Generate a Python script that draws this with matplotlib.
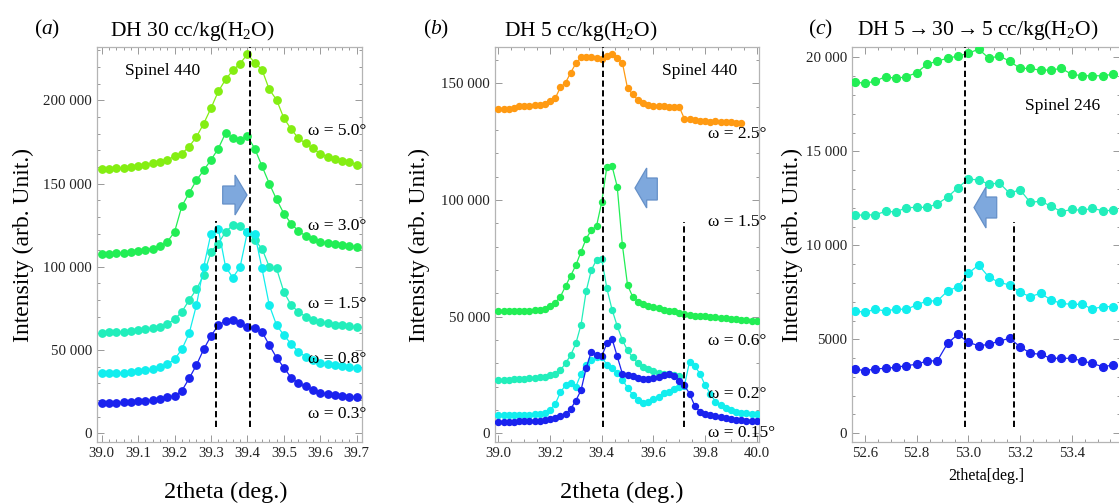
"""
Spinel XRD rocking scans - three panels (DH 30, DH 5, DH 5->30->5)
"""

import numpy as np
import matplotlib
matplotlib.use("Agg")
import matplotlib.pyplot as plt
from matplotlib.patches import Polygon
from matplotlib.ticker import MultipleLocator, FuncFormatter

plt.rcParams['font.family'] = ['Liberation Serif', 'DejaVu Serif']
plt.rcParams['mathtext.fontset'] = 'custom'
plt.rcParams['mathtext.rm'] = 'Liberation Serif'
plt.rcParams['mathtext.it'] = 'Liberation Serif:italic'

# ==============================================================================
#  DATA (intensities in thousands of counts)
# ==============================================================================
# scan grids: (a) 39.00-39.70 step 0.02, (b) 39.00-40.00 step 0.02, (c) 52.56-53.56 step 0.04
theta_a = np.round(np.linspace(39.00, 39.70, 36), 2)
theta_b = np.round(np.linspace(39.00, 40.00, 51), 2)
theta_c = np.round(np.linspace(52.56, 53.56, 26), 2)

a_w50 = [158.7, 158.9, 159.1, 159.5, 159.9, 160.7, 161.3, 162.1, 162.9, 164.3, 166.3, 168.0,
         172.2, 178.0, 186.0, 195.3, 205.3, 212.5, 218.0, 222.0, 227.8, 222.5, 218.4, 206.5,
         200.3, 189.3, 182.7, 177.2, 174.1, 171.2, 167.8, 166.2, 164.6, 163.4, 162.8, 161.4]
a_w30 = [107.5, 107.8, 108.2, 108.6, 109.0, 109.6, 110.4, 111.0, 112.3, 115.0, 121.0, 136.5,
         144.3, 152.0, 158.0, 164.2, 171.0, 180.3, 177.5, 176.0, 178.5, 171.0, 160.5, 150.0,
         140.5, 132.0, 126.0, 121.5, 118.5, 116.5, 115.0, 114.3, 113.7, 113.2, 112.5, 112.2]
a_w15 = [60.5, 60.7, 60.9, 61.1, 61.5, 61.9, 62.5, 63.3, 64.1, 65.7, 68.5, 73.0,
         80.0, 86.5, 95.0, 109.0, 114.0, 121.0, 125.0, 124.6, 121.0, 116.0, 111.0, 100.0,
         99.0, 85.0, 77.0, 73.0, 70.0, 68.0, 67.0, 66.0, 65.3, 64.8, 64.2, 63.7]
a_w08 = [36.0, 36.0, 36.2, 36.4, 36.8, 37.3, 37.9, 38.7, 39.7, 41.5, 44.5, 50.5,
         60.0, 77.0, 100.0, 120.0, 123.0, 100.0, 93.5, 100.0, 121.0, 120.0, 99.0, 77.0,
         65.0, 59.0, 53.7, 49.0, 46.0, 44.0, 42.5, 41.6, 40.8, 40.2, 39.6, 39.2]
a_w03 = [18.4, 18.4, 18.4, 18.6, 19.0, 19.4, 19.6, 20.0, 20.8, 22.0, 22.4, 25.6,
         33.0, 41.0, 50.5, 58.5, 65.0, 67.5, 68.0, 66.0, 64.0, 63.0, 61.0, 53.0,
         45.5, 39.5, 33.5, 30.0, 28.2, 26.2, 24.5, 23.6, 23.0, 22.5, 22.1, 21.8]
a_labels = ["ω = 5.0°", "ω = 3.0°", "ω = 1.5°", "ω = 0.8°", "ω = 0.3°"]

b_w25 = [138.8, 138.9, 139.0, 139.2, 140.3, 140.2, 140.3, 140.5, 140.7, 141.2, 142.2, 143.5,
         148.2, 150.2, 154.5, 158.5, 161.1, 161.4, 161.1, 160.7, 160.4, 161.7, 162.5, 160.7,
         158.8, 147.8, 145.2, 142.8, 141.4, 140.8, 140.4, 140.3, 140.2, 140.0, 139.9, 139.8,
         134.8, 134.5, 134.3, 134.0, 133.6, 133.5, 133.6, 133.3, 133.3, 133.2, 133.1, 133.0]
b_w15 = [52.4, 52.4, 52.5, 52.5, 52.5, 52.6, 52.6, 52.8, 53.0, 53.4, 54.4, 56.0,
         58.5, 63.0, 67.5, 72.0, 77.8, 83.4, 87.1, 88.8, 99.0, 114.2, 114.5, 105.7,
         80.7, 63.5, 58.5, 56.4, 55.3, 54.5, 54.0, 53.5, 53.0, 52.6, 52.2, 51.5,
         50.9, 50.6, 50.4, 50.3, 50.1, 50.0, 49.8, 49.6, 49.4, 49.1, 48.8, 48.6,
         48.4, 48.2, 48.1]
b_w06 = [22.8, 22.8, 22.9, 23.1, 23.2, 23.4, 23.6, 23.8, 24.0, 24.3, 24.8, 25.5,
         27.0, 30.0, 33.5, 38.5, 46.5, 61.0, 70.0, 74.3, 74.8, 62.1, 53.0, 46.0,
         40.0, 35.5, 32.5, 30.0, 28.5, 27.5, 26.6, 26.0, 25.5, 25.2, 24.9, 24.6]
b_w02 = [7.8, 7.8, 7.8, 7.8, 7.9, 7.9, 8.0, 8.1, 8.4, 8.9, 10.0, 12.5,
         17.5, 20.7, 21.4, 20.0, 25.5, 29.3, 31.4, 32.5, 32.8, 29.3, 27.8, 25.9,
         23.0, 19.5, 16.5, 14.3, 13.1, 13.3, 14.6, 15.7, 17.1, 17.9, 18.8, 20.0,
         20.3, 30.7, 29.0, 25.5, 20.7, 17.0, 13.6, 12.0, 10.7, 10.0, 9.0, 8.7,
         8.5, 8.4, 8.3]
b_w015 = [5.0, 5.0, 5.0, 5.0, 5.1, 5.1, 5.2, 5.3, 5.4, 5.6, 6.0, 6.6,
          7.3, 8.3, 10.5, 14.0, 18.5, 28.0, 35.0, 33.5, 33.0, 38.5, 40.5, 33.0,
          25.5, 25.0, 24.5, 23.8, 23.2, 23.2, 23.6, 24.2, 25.0, 25.6, 24.5, 22.5,
          20.5, 17.0, 11.8, 9.2, 8.4, 7.8, 7.2, 6.8, 6.4, 6.0, 5.7, 5.5,
          5.3, 5.2, 5.1]
b_labels = ["ω = 2.5°", "ω = 1.5°", "ω = 0.6°", "ω = 0.2°", "ω = 0.15°"]

c_s1 = [18.70, 18.61, 18.74, 18.97, 18.88, 18.97, 19.18, 19.63, 19.80, 19.95, 20.07, 20.21, 20.44,
        19.95, 20.07, 19.80, 19.41, 19.41, 19.31, 19.33, 19.41, 19.10, 19.02, 19.02, 19.02, 19.10]
c_s2 = [11.61, 11.61, 11.63, 11.80, 11.78, 12.00, 12.02, 12.02, 12.20, 12.57, 13.07, 13.52, 13.48,
        13.25, 13.32, 12.77, 12.96, 12.28, 12.35, 12.08, 11.79, 11.91, 11.86, 11.97, 11.84, 11.86]
c_s3 = [6.52, 6.43, 6.61, 6.50, 6.61, 6.59, 6.83, 7.04, 7.04, 7.57, 7.80, 8.51, 8.95,
        8.30, 8.03, 7.89, 7.50, 7.27, 7.45, 7.09, 6.91, 6.86, 6.86, 6.61, 6.74, 6.74]
c_s4 = [3.42, 3.33, 3.42, 3.46, 3.51, 3.60, 3.67, 3.85, 3.85, 4.79, 5.27, 4.84, 4.66,
        4.73, 4.91, 5.05, 4.61, 4.26, 4.20, 3.99, 3.99, 3.99, 3.85, 3.72, 3.54, 3.63]

# reference lines: (2theta, y_bottom, y_top) in counts
a_refs = [(39.315, 4000, 127600), (39.407, 4000, 232000)]
b_refs = [(39.406, 2800, 165500), (39.720, 2800, 90700)]
c_refs = [(52.987, 350, 20550), (53.177, 350, 11250)]

# ==============================================================================
#  STYLE
# ==============================================================================
W, H = 1119, 504
LIME, GREEN, AQUA, CYAN, BLUE, ORANGE = '#84ee12', '#22ee55', '#22eebb', '#12eeee', '#1a22ee', '#ff9a12'
SPINE = '#b4b4b4'


def px_box(left, top, right, bottom):
    return [left / W, 1 - bottom / H, (right - left) / W, (bottom - top) / H]


def fx(x):
    return x / W


def fy(y):
    return 1 - y / H


def fmt_counts(v, pos):
    n = int(round(v))
    return f"{n:,}".replace(",", " ") if abs(n) >= 10000 else str(n)


def style_axes(ax, xmaj, xmin, ymaj, ymin, xfmt):
    for sp in ax.spines.values():
        sp.set_color(SPINE)
        sp.set_linewidth(0.9)
    ax.xaxis.set_major_locator(MultipleLocator(xmaj))
    ax.xaxis.set_minor_locator(MultipleLocator(xmin))
    ax.yaxis.set_major_locator(MultipleLocator(ymaj))
    ax.yaxis.set_minor_locator(MultipleLocator(ymin))
    ax.xaxis.set_major_formatter(FuncFormatter(lambda v, p: xfmt % v))
    ax.yaxis.set_major_formatter(FuncFormatter(fmt_counts))
    ax.tick_params(which='both', direction='in', top=True, right=True, color='#999999',
                   labelcolor='#222222', labelsize=10.7, width=0.7)
    ax.tick_params(which='major', length=5, pad=3.5)
    ax.tick_params(which='minor', length=2.5)


def draw_series(ax, x, series, colors, ms):
    for vals, col in zip(series, colors):
        ax.plot(x, np.asarray(vals) * 1000, '-o', color=col, mec=col, ms=ms, lw=0.9, zorder=3)


def draw_refs(ax, refs):
    for x0, y0, y1 in refs:
        ax.plot([x0, x0], [y0, y1], color='black', ls=(0, (3.2, 1.8)), lw=1.4, zorder=4)


def block_arrow(fig, pts):
    poly = Polygon([(fx(x), fy(y)) for x, y in pts], closed=True, transform=fig.transFigure,
                   facecolor='#7ea8dd', edgecolor='#6590c8', lw=0.9, zorder=10)
    fig.patches.append(poly)


fig = plt.figure(figsize=(W / 100, H / 100), dpi=100)

# ==============================================================================
#  (a) DH 30
# ==============================================================================
ax_a = fig.add_axes(px_box(97, 47, 362, 441.7))
draw_series(ax_a, theta_a, [a_w50, a_w30, a_w15, a_w08, a_w03], [LIME, GREEN, AQUA, CYAN, BLUE], 5.3)
draw_refs(ax_a, a_refs)
ax_a.set_xlim(38.987, 39.7146)
ax_a.set_ylim(-5000, 232000)
style_axes(ax_a, 0.1, 0.02, 50000, 10000, '%.1f')
for lab, y in zip(a_labels, [131, 226, 304, 359, 414]):
    fig.text(fx(308), fy(y), lab, fontsize=12.5, va='center', ha='left', zorder=12)
fig.text(fx(162.5), fy(71.5), "Spinel 440", fontsize=12.5, ha='center', va='center')
fig.text(fx(47.5), fy(34), r"($\mathit{a}$)", fontsize=15.5, ha='center', va='baseline')
fig.text(fx(192.5), fy(36), r"DH 30 cc/kg(H$_2$O)", fontsize=15.5, ha='center', va='baseline')
fig.text(fx(23), fy(245), "Intensity (arb. Unit.)", fontsize=17, rotation=90, ha='center', va='center')
fig.text(fx(226), fy(492), "2theta (deg.)", fontsize=17.5, ha='center', va='center')
block_arrow(fig, [(222.7, 186), (235, 186), (235, 175), (247, 195), (235, 215), (235, 204), (222.7, 204)])

# ==============================================================================
#  (b) DH 5
# ==============================================================================
ax_b = fig.add_axes(px_box(495, 47, 759.3, 441.7))
draw_series(ax_b, theta_b[:48], [b_w25], [ORANGE], 4.3)
draw_series(ax_b, theta_b, [b_w15], [GREEN], 4.3)
draw_series(ax_b, theta_b[:36], [b_w06], [AQUA], 4.3)
draw_series(ax_b, theta_b, [b_w02, b_w015], [CYAN, BLUE], 4.3)
draw_refs(ax_b, b_refs)
ax_b.set_xlim(38.987, 40.010)
ax_b.set_ylim(-3600, 165500)
style_axes(ax_b, 0.2, 0.05, 50000, 10000, '%.1f')
for lab, y in zip(b_labels, [134, 222, 341, 394, 433]):
    fig.text(fx(708), fy(y), lab, fontsize=12.5, va='center', ha='left', zorder=12)
fig.text(fx(700), fy(71.5), "Spinel 440", fontsize=12.5, ha='center', va='center')
fig.text(fx(436), fy(34), r"($\mathit{b}$)", fontsize=15.5, ha='center', va='baseline')
fig.text(fx(581), fy(36), r"DH 5 cc/kg(H$_2$O)", fontsize=15.5, ha='center', va='baseline')
fig.text(fx(419), fy(245), "Intensity (arb. Unit.)", fontsize=17, rotation=90, ha='center', va='center')
fig.text(fx(622), fy(492), "2theta (deg.)", fontsize=17.5, ha='center', va='center')
block_arrow(fig, [(657.3, 178), (646.7, 178), (646.7, 168), (635, 188), (646.7, 208), (646.7, 200), (657.3, 200)])

# ==============================================================================
#  (c) DH 5 -> 30 -> 5
# ==============================================================================
ax_c = fig.add_axes(px_box(852, 47, 1120, 441.7))
draw_series(ax_c, theta_c, [c_s1, c_s2, c_s3, c_s4], [GREEN, AQUA, CYAN, BLUE], 5.6)
draw_refs(ax_c, c_refs)
ax_c.set_xlim(52.55, 53.587)
ax_c.set_ylim(-447, 20550)
style_axes(ax_c, 0.2, 0.05, 5000, 1000, '%.1f')
fig.text(fx(1063), fy(106.5), "Spinel 246", fontsize=12.5, ha='center', va='center')
fig.text(fx(820), fy(34), r"($\mathit{c}$)", fontsize=15.5, ha='center', va='baseline')
fig.text(fx(978), fy(35), r"DH 5${\rightarrow}$30${\rightarrow}$5 cc/kg(H$_2$O)", fontsize=15.5,
         ha='center', va='baseline')
fig.text(fx(792), fy(245), "Intensity (arb. Unit.)", fontsize=17, rotation=90, ha='center', va='center')
fig.text(fx(986), fy(476), "2theta[deg.]", fontsize=11.5, ha='center', va='center')
block_arrow(fig, [(996.7, 197), (986, 197), (986, 187), (974, 207.5), (986, 228), (986, 218), (996.7, 218)])

fig.savefig("out.png", dpi=100)
